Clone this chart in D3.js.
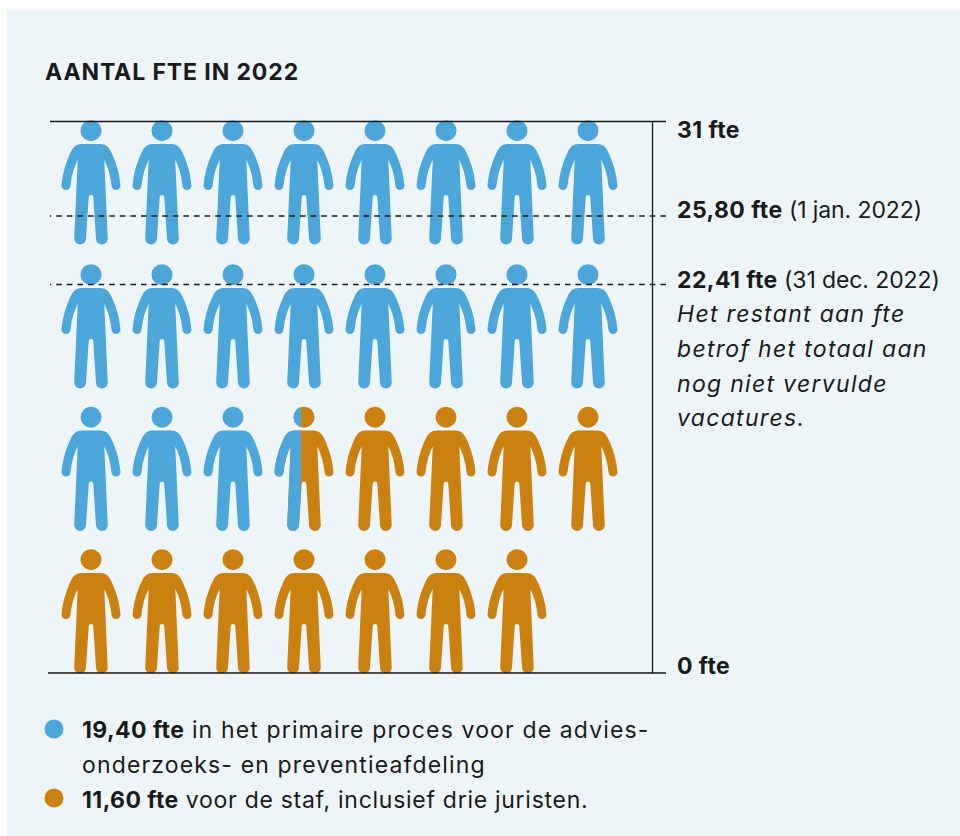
<!DOCTYPE html>
<html>
<head>
<meta charset="utf-8">
<script src="https://cdn.jsdelivr.net/npm/d3@7"></script>
<style>
    html, body { margin: 0; padding: 0; background: #fff; }
    svg { display: block; }
    text { font-family: Inter, "Open Sans", sans-serif; fill: #1a1a1a; font-size: 23px; }
    .title { font-weight: 700; letter-spacing: 0.9px; }
    .strong { font-weight: 700; letter-spacing: 0.42px; }
    .tick-note { letter-spacing: -0.1px; }
    .note { font-style: italic; letter-spacing: 1.3px; }
</style>
</head>
<body>
<svg id="chart" width="960" height="836"></svg>
<script>
// data
var title = 'AANTAL FTE IN 2022';
var peoplePerRow = [8, 8, 8, 7];
var primaryFte = 19.40;
var staffFte = 11.60;
var totalFte = 31;
var tickValues = [0, 22.41, 25.80, 31];
var tickBold = ['0 fte', '22,41 fte', '25,80 fte', '31 fte'];
var tickNote = ['', ' (31 dec. 2022)', ' (1 jan. 2022)', ''];
var noteLines = ['Het restant aan fte', 'betrof het totaal aan', 'nog niet vervulde', 'vacatures.'];
var legendBold = ['19,40 fte', '', '11,60 fte'];
var legendText = [' in het primaire proces voor de advies-', 'onderzoeks- en preventieafdeling', ' voor de staf, inclusief drie juristen.'];

var blue = '#4ca6da';
var orange = '#cb810f';
var panel = '#edf5f8';
var ink = '#1a1a1a';

var svg = d3.select('#chart');

svg.append('rect')
    .attr('x', 7).attr('y', 10)
    .attr('width', 953).attr('height', 826)
    .attr('fill', panel);

// scales
var x = d3.scalePoint().domain(d3.range(8)).range([91, 588]);
// the second row sits a little lower than even spacing in the source
var rowY = d3.scaleLinear().domain([0, 1, 3]).range([120, 264, 549]);
// the fte lines in the source are not spaced linearly, so this is piecewise
var y = d3.scaleLinear().domain(tickValues).range([673, 284.5, 216, 121.5]);
// how far a person is filled, measured across the torso
var share = d3.scaleLinear().domain([0, 1]).range([-15, 15]);

function personPath() {
    var p = d3.path();
    p.moveTo(-9.3, 24);
    p.lineTo(9.3, 24);
    p.bezierCurveTo(14.5, 24, 17.8, 27, 20, 31.7);
    p.bezierCurveTo(25, 42, 28.2, 52, 29.4, 65);
    p.arc(25, 65.5, 4.5, 0, Math.PI);
    p.bezierCurveTo(19.5, 56, 17, 47, 13.3, 40);
    p.lineTo(16.7, 118);
    p.arc(10.9, 118.5, 5.9, 0, Math.PI);
    p.lineTo(2.3, 77.3);
    p.arc(0, 77.3, 2.3, 0, Math.PI, true);
    p.lineTo(-5, 118.5);
    p.arc(-10.9, 118.5, 5.9, 0, Math.PI);
    p.lineTo(-13.3, 40);
    p.bezierCurveTo(-17, 47, -19.5, 56, -20.5, 65.5);
    p.arc(-25, 65.5, 4.5, 0, Math.PI);
    p.bezierCurveTo(-28.2, 52, -25, 42, -20, 31.7);
    p.bezierCurveTo(-17.8, 27, -14.5, 24, -9.3, 24);
    p.closePath();
    p.moveTo(10.5, 10.7);
    p.arc(0, 10.7, 10.5, 0, Math.PI * 2);
    p.closePath();
    return p.toString();
}

// one record per person, filled from the top left
var people = [];
var seen = 0;
peoplePerRow.forEach(function (count, row) {
    d3.range(count).forEach(function (col) {
        var primary = Math.max(0, Math.min(1, primaryFte - seen));
        people.push({ row: row, col: col, primary: primary });
        seen += 1;
    });
});

var defs = svg.append('defs');
defs.append('clipPath').attr('id', 'primary-part')
    .append('rect')
    .attr('x', -40).attr('y', 0)
    .attr('width', 40 + share(primaryFte % 1)).attr('height', 130);

var person = svg.append('g').selectAll('g')
    .data(people)
    .enter()
    .append('g')
    .attr('transform', function (d) {
        return 'translate(' + x(d.col) + ',' + rowY(d.row) + ')';
    });

person.append('path')
    .attr('d', personPath())
    .attr('fill', function (d) { return d.primary === 1 ? blue : orange; });

person.filter(function (d) { return d.primary > 0 && d.primary < 1; })
    .append('path')
    .attr('d', personPath())
    .attr('fill', blue)
    .attr('clip-path', 'url(#primary-part)');

// axis, with ticks running back over the people
var axis = svg.append('g')
    .attr('transform', 'translate(652,0)')
    .call(d3.axisLeft(y).tickValues(tickValues).tickSizeOuter(0).tickFormat(''));

axis.select('.domain').attr('stroke', ink).attr('stroke-width', 1.3);
axis.selectAll('.tick text').remove();
axis.selectAll('.tick')
    .attr('transform', function (d) { return 'translate(0,' + y(d) + ')'; });
axis.selectAll('.tick line')
    .attr('x1', 14)
    .attr('x2', function (d) { return d === 0 ? -604 : -602; })
    .attr('stroke', ink)
    .attr('stroke-width', 1.4)
    .attr('stroke-dasharray', function (d) { return d === 0 || d === totalFte ? null : '5.6,5'; });

// axis labels
var labelDy = [1, 3.5, 2, 16.5];
var labels = svg.append('g').selectAll('text')
    .data(tickValues)
    .enter()
    .append('text')
    .attr('x', 677)
    .attr('y', function (d, i) { return y(d) + labelDy[i]; });

labels.append('tspan')
    .attr('class', 'strong')
    .text(function (d, i) { return tickBold[i]; });
labels.append('tspan')
    .attr('class', 'tick-note')
    .attr('xml:space', 'preserve')
    .text(function (d, i) { return tickNote[i]; });

svg.append('g').selectAll('text')
    .data(noteLines)
    .enter()
    .append('text')
    .attr('class', 'note')
    .attr('x', 677)
    .attr('y', function (d, i) { return 322 + i * 34.8; })
    .text(function (d) { return d; });

svg.append('text')
    .attr('x', 45).attr('y', 80)
    .attr('class', 'title')
    .text(title);

// legend
svg.append('circle').attr('cx', 54).attr('cy', 729).attr('r', 9.5).attr('fill', blue);
svg.append('circle').attr('cx', 54).attr('cy', 798).attr('r', 9.5).attr('fill', orange);

var legendSpacing = [1.14, 1.15, 0.72];
var legend = svg.append('g').selectAll('text')
    .data(legendText)
    .enter()
    .append('text')
    .attr('x', 82)
    .attr('y', function (d, i) { return 738 + i * 35; })
    .attr('xml:space', 'preserve');

legend.append('tspan')
    .attr('class', 'strong')
    .text(function (d, i) { return legendBold[i]; });
legend.append('tspan')
    .attr('letter-spacing', function (d, i) { return legendSpacing[i]; })
    .text(function (d) { return d; });
</script>
</body>
</html>
